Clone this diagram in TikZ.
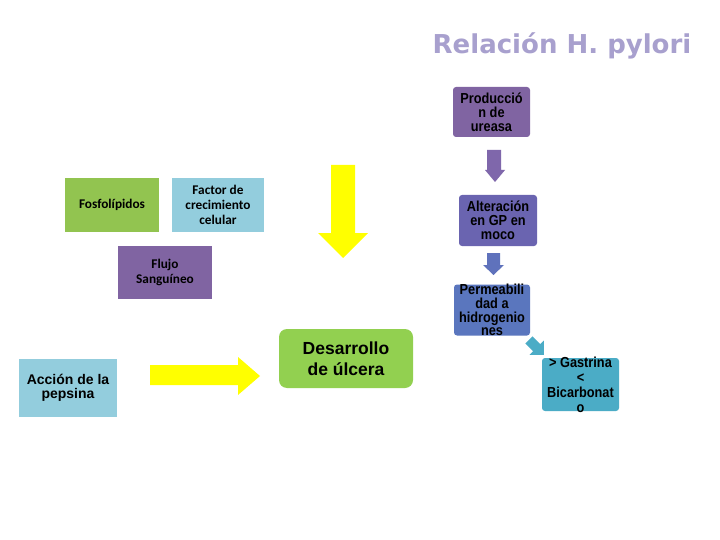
\documentclass[tikz,border=0pt]{standalone}
\usepackage{fontspec}
\setmainfont{Liberation Sans}
\newfontfamily\calfont{Carlito}
\newfontfamily\titlefont{DejaVu Sans}
\newfontfamily\narrowfont[FakeStretch=0.88]{Liberation Sans}
\definecolor{titlecol}{HTML}{A8A0CE}
\definecolor{purp}{HTML}{8064A2}
\definecolor{bpurp}{HTML}{6A64B0}
\definecolor{bblue}{HTML}{5A76BE}
\definecolor{teal}{HTML}{4BACC6}
\definecolor{lblue}{HTML}{93CDDD}
\definecolor{lgreen}{HTML}{92C450}
\definecolor{bgreen}{HTML}{92D050}
\definecolor{arr1}{HTML}{7F67AB}
\definecolor{arr2}{HTML}{5F72BC}
\definecolor{yell}{HTML}{FFFF00}
\begin{document}
\begin{tikzpicture}[x=1pt,y=-1pt,
  rbox/.style={rectangle, rounded corners=3pt, inner sep=0pt},
  sbox/.style={rectangle, inner sep=0pt},
  rtxt/.style={align=center, inner sep=0pt, font=\narrowfont\bfseries\fontsize{14.5}{13.8}\selectfont},
  ltxt/.style={align=center, inner sep=0pt, font=\calfont\bfseries\fontsize{13.3}{15}\selectfont}
]
\useasboundingbox (0,0) rectangle (720,540);
\fill[white] (0,0) rectangle (720,540);

% title
\node[inner sep=0pt, text=titlecol, font=\titlefont\bfseries\fontsize{26}{30}\selectfont] (title) at (562,46) {Relación H. pylori};

% right column
\node[rbox, fill=purp, minimum width=77pt, minimum height=50pt] (prod) at (491.5,112) {};
\node[rtxt] (prodt) at (prod) {Producció\\n de\\ureasa};

\node[rbox, fill=bpurp, minimum width=78pt, minimum height=51pt] (alt) at (498,220.5) {};
\node[rtxt] (altt) at (alt) {Alteración\\en GP en\\moco};

\node[rbox, fill=bblue, minimum width=76pt, minimum height=51pt] (perm) at (492,310) {};
\node[rtxt] (permt) at (perm) {Permeabili\\dad a\\hidrogenio\\nes};

\node[rbox, fill=teal, minimum width=77pt, minimum height=53pt] (gas) at (580.5,384.5) {};
\node[rtxt, font=\narrowfont\bfseries\fontsize{14.5}{15}\selectfont] (gast) at (gas) {> Gastrina\\<\\Bicarbonat\\o};

% small arrows
\fill[arr1] (487,150) -- (501,150) -- (501,170) -- (505,170) -- (495,182) -- (485,170) -- (487,170) -- cycle;
\fill[arr2] (487,253) -- (500,253) -- (500,265) -- (504,265) -- (493.5,275) -- (483,265) -- (487,265) -- cycle;
\begin{scope}[shift={(536,347)}, rotate=-45]
\fill[teal] (-10,-5) -- (1,-5) -- (1,-10) -- (11,0) -- (1,10) -- (1,5) -- (-10,5) -- cycle;
\end{scope}

% left side
\node[sbox, fill=lgreen, minimum width=94pt, minimum height=54pt] (fos) at (112,205) {};
\node[ltxt] (fost) at (fos) {Fosfolípidos};

\node[sbox, fill=lblue, minimum width=92pt, minimum height=54pt] (fac) at (218,205) {};
\node[ltxt] (fact) at (fac) {Factor de\\crecimiento\\celular};

\node[sbox, fill=purp, minimum width=94pt, minimum height=53pt] (flu) at (165,272.5) {};
\node[ltxt] (flut) at (flu) {Flujo\\Sanguíneo};

\node[sbox, fill=lblue, minimum width=98pt, minimum height=58pt] (acc) at (68,388) {};
\node[align=center, inner sep=0pt, font=\bfseries\fontsize{14}{14.5}\selectfont] (acct) at (acc) {Acción de la\\pepsina};

\node[rectangle, rounded corners=8pt, fill=bgreen, minimum width=134pt, minimum height=59pt, inner sep=0pt] (des) at (346,358.5) {};
\node[align=center, inner sep=0pt, font=\bfseries\fontsize{17.5}{21}\selectfont] (dest) at (des) {Desarrollo\\de úlcera};

% yellow arrows
\fill[yell] (331,165) -- (355,165) -- (355,233) -- (368,233) -- (343,258) -- (318,233) -- (331,233) -- cycle;
\fill[yell] (150,365) -- (238,365) -- (238,357) -- (260,376) -- (238,395) -- (238,385) -- (150,385) -- cycle;
\end{tikzpicture}
\end{document}
